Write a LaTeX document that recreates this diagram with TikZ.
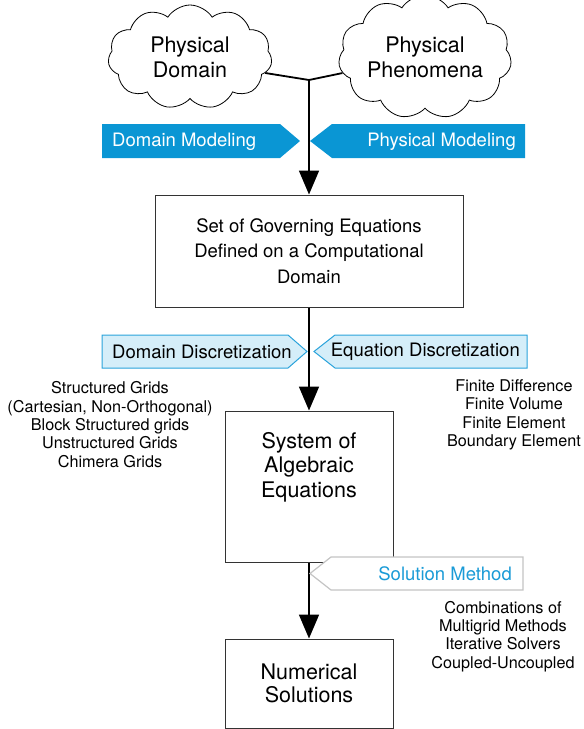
\documentclass[tikz,border=0pt]{standalone}
\usepackage{fontspec}
\setmainfont{TeX Gyre Heros}
\usetikzlibrary{shapes.symbols,arrows.meta}
\definecolor{mblue}{HTML}{0A96D4}
\definecolor{lblue}{HTML}{D5EEF9}
\definecolor{bblue}{HTML}{2AA3DB}
\definecolor{sgrey}{HTML}{C4C4C4}
\definecolor{tblue}{HTML}{1A9BD7}
\definecolor{boxgrey}{HTML}{333333}
\begin{document}
\begin{tikzpicture}[x=1pt,y=-1pt,
  bigfont/.style={font=\fontsize{21.5}{25}\selectfont},
  midfont/.style={font=\fontsize{18.5}{25.5}\selectfont},
  smallfont/.style={font=\fontsize{16.2}{18.4}\selectfont},
  cloudnode/.style={cloud, draw=black, line width=0.8pt, cloud puffs=11, cloud puff arc=115, aspect=1.6,
     minimum width=164pt, minimum height=104pt, inner sep=0pt, bigfont, align=center},
  boxnode/.style={draw=boxgrey, line width=1pt, fill=white, inner sep=0pt, align=center},
  conn/.style={line width=1.8pt, black},
  arr/.style={conn, -{Triangle[width=20pt,length=24pt]}},
  darkbanner/.style={fill=mblue, draw=none},
  lightbanner/.style={fill=lblue, draw=bblue, line width=1pt},
  greybanner/.style={fill=white, draw=sgrey, line width=1.2pt},
  plain/.style={inner sep=0pt, align=center}
]
\useasboundingbox (0,0) rectangle (584,729);

% clouds
\node[cloudnode] (pd) at (190,57) {Physical\\Domain};
\node[cloudnode] (pp) at (425,57) {Physical\\Phenomena};
\coordinate (j) at (309,80);

% boxes
\node[boxnode, midfont, minimum width=308pt, minimum height=112pt] (gov) at (309,251)
  {Set of Governing Equations\\Defined on a Computational\\Domain};
\node[boxnode, minimum width=168pt, minimum height=151pt] (sys) at (309,486.5) {};
\node[plain, bigfont, font=\fontsize{21.5}{24.5}\selectfont] (systext) at (309,467) {System of\\Algebraic\\Equations};
\node[boxnode, bigfont, font=\fontsize{21.5}{23.5}\selectfont, minimum width=168pt, minimum height=89pt] (num) at (309,683.5)
  {Numerical\\Solutions};

% connectors
\draw[conn] (pd.-12) -- (j) -- (pp.191);
\draw[arr] (j) -- (gov.north);
\draw[arr] (gov.south) -- (sys.north);
\draw[arr] (sys.south) -- (num.north);

% banners: modeling
\draw[darkbanner] (102,124) -- (280,124) -- (300,141) -- (280,158) -- (102,158) -- cycle;
\node[plain, anchor=west, midfont, text=white] (dm) at (112,141.5) {Domain Modeling};
\draw[darkbanner] (525,124) -- (332,124) -- (310,141) -- (332,158) -- (525,158) -- cycle;
\node[plain, anchor=east, midfont, text=white] (pm) at (516,141.5) {Physical Modeling};

% banners: discretization
\draw[lightbanner] (102,335) -- (288,335) -- (307,351.5) -- (288,368) -- (102,368) -- cycle;
\node[plain, anchor=west, midfont] (dd) at (112,352) {Domain Discretization};
\draw[lightbanner] (527,335) -- (335,335) -- (314,351.5) -- (335,368) -- (527,368) -- cycle;
\node[plain, anchor=east, midfont] (ed) at (520,352) {Equation Discretization};

% banner: solution method
\draw[greybanner] (523,557) -- (331,557) -- (310,573.5) -- (331,590) -- (523,590) -- cycle;
\node[plain, anchor=east, midfont, text=tblue] (sm) at (512,574) {Solution Method};

% side lists
\node[plain, smallfont] (grids) at (110,424.5)
  {Structured Grids\\(Cartesian, Non-Orthogonal)\\Block Structured grids\\Unstructured Grids\\Chimera Grids};
\node[plain, smallfont] (methods) at (514,415)
  {Finite Difference\\Finite Volume\\Finite Element\\Boundary Element};
\node[plain, smallfont] (solvers) at (503,636.5)
  {Combinations of\\Multigrid Methods\\Iterative Solvers\\Coupled-Uncoupled};
\end{tikzpicture}
\end{document}
